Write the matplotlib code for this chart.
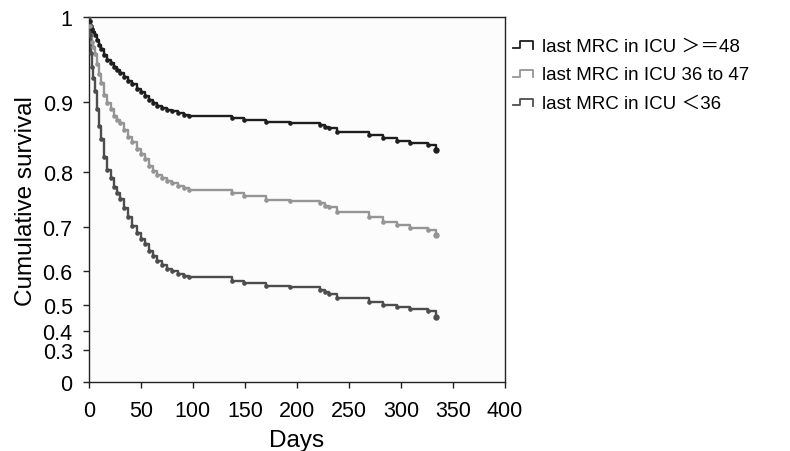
import numpy as np
import matplotlib
matplotlib.use("Agg")
import matplotlib.pyplot as plt
from matplotlib.lines import Line2D
from matplotlib.legend_handler import HandlerLine2D

# ---------------- data ----------------
days = [0, 1, 2, 3, 4, 6, 8, 10, 12, 15, 18, 21, 24, 27, 30, 34, 38, 42, 46, 50,
        54, 58, 62, 66, 70, 75, 80, 86, 92, 96, 138, 149, 170, 193, 222, 227, 231,
        239, 269, 283, 296, 309, 326, 334]

surv_ge48 = [1.000, 0.995, 0.990, 0.986, 0.983, 0.979, 0.973, 0.967, 0.962, 0.955,
             0.950, 0.946, 0.941, 0.938, 0.935, 0.930, 0.925, 0.921, 0.916, 0.912,
             0.908, 0.903, 0.899, 0.895, 0.892, 0.889, 0.887, 0.884, 0.882, 0.881,
             0.877, 0.875, 0.871, 0.870, 0.867, 0.865, 0.863, 0.858, 0.853, 0.848,
             0.845, 0.841, 0.838, 0.832]

surv_36_47 = [1.000, 0.990, 0.979, 0.971, 0.965, 0.957, 0.945, 0.933, 0.923, 0.909,
              0.899, 0.891, 0.881, 0.875, 0.870, 0.860, 0.850, 0.843, 0.833, 0.826,
              0.818, 0.809, 0.801, 0.794, 0.788, 0.783, 0.779, 0.774, 0.770, 0.767,
              0.761, 0.757, 0.750, 0.748, 0.743, 0.739, 0.736, 0.727, 0.718, 0.710,
              0.705, 0.699, 0.693, 0.682]

surv_lt36 = [1.000, 0.979, 0.958, 0.941, 0.929, 0.913, 0.890, 0.866, 0.847, 0.821,
             0.803, 0.789, 0.772, 0.762, 0.751, 0.734, 0.718, 0.703, 0.687, 0.674,
             0.662, 0.646, 0.634, 0.622, 0.613, 0.604, 0.599, 0.590, 0.584, 0.582,
             0.571, 0.565, 0.555, 0.551, 0.543, 0.538, 0.533, 0.520, 0.509, 0.500,
             0.492, 0.483, 0.475, 0.453]

series_labels = ["last MRC in ICU \uff1e\uff1d48", "last MRC in ICU 36 to 47",
                 "last MRC in ICU \uff1c36"]

y_ticks = [0, 0.3, 0.4, 0.5, 0.6, 0.7, 0.8, 0.9, 1.0]
y_tick_labels = ["0", "0.3", "0.4", "0.5", "0.6", "0.7", "0.8", "0.9", "1"]
x_ticks = [0, 50, 100, 150, 200, 250, 300, 350, 400]

# ---------------- style ----------------
colors = ["#1e1e1e", "#959595", "#4d4d4d"]
# nonlinear vertical scale of the original (tick value -> relative height)
scale_pos = [0.0, 0.0876, 0.1404, 0.2124, 0.3055, 0.4243, 0.5765, 0.7665, 1.0]

plt.rcParams['font.family'] = ['Liberation Sans', 'Noto Sans CJK SC', 'DejaVu Sans']

def fwd(v):
    return np.interp(v, y_ticks, scale_pos)

def inv(p):
    return np.interp(p, scale_pos, y_ticks)


class StepHandler(HandlerLine2D):
    def create_artists(self, legend, orig_handle, xdescent, ydescent, width,
                       height, fontsize, trans):
        x0 = -xdescent
        yb = -ydescent + height * 0.2
        yt = -ydescent + height * 0.7
        xs = [x0, x0 + width * 0.35, x0 + width * 0.35, x0 + width * 0.9, x0 + width * 0.9]
        ys = [yb, yb, yt, yt, yb - height * 0.05]
        ln = Line2D(xs, ys, color=orig_handle.get_color(), lw=1.3)
        ln.set_transform(trans)
        return [ln]


fig = plt.figure(figsize=(7.9, 4.52), dpi=100)
ax = fig.add_axes([0.1123, 0.152, 0.527, 0.808])
ax.set_facecolor("#fcfcfc")

ax.set_yscale('function', functions=(fwd, inv))

handles = []
for s, c, lab in zip([surv_ge48, surv_36_47, surv_lt36], colors, series_labels):
    ax.step(days, s, where='post', color=c, lw=1.7, zorder=3)
    ax.plot(days[1:-1], s[1:-1], 'o', ms=2.3, color=c, zorder=4)
    ax.plot(days[-1:], s[-1:], 'o', ms=3.6, color=c, zorder=4)
    handles.append(Line2D([], [], color=c, label=lab))

ax.set_xlim(0, 400)
ax.set_ylim(0, 1)
ax.set_xticks(x_ticks)
ax.set_xticklabels([str(x) for x in x_ticks])
ax.set_yticks(y_ticks)
ax.set_yticklabels(y_tick_labels)
ax.yaxis.set_minor_locator(matplotlib.ticker.NullLocator())
ax.tick_params(axis='both', direction='out', length=4.5, width=1.0,
               labelsize=15.5, color="#222222")
ax.tick_params(axis='x', pad=8)
ax.tick_params(axis='y', pad=7)
for sp in ax.spines.values():
    sp.set_linewidth(1.0)
    sp.set_color("#222222")

ax.set_xlabel("Days", fontsize=17.5, labelpad=6)
ax.set_ylabel("Cumulative survival", fontsize=17.5, labelpad=4)

leg = ax.legend(handles=handles, loc='upper left', bbox_to_anchor=(1.0, 0.965),
                frameon=False, fontsize=13.5, handlelength=1.2, handletextpad=0.35,
                labelspacing=0.62, borderaxespad=0.0,
                handler_map={Line2D: StepHandler()})

fig.savefig("out.png", dpi=100)
